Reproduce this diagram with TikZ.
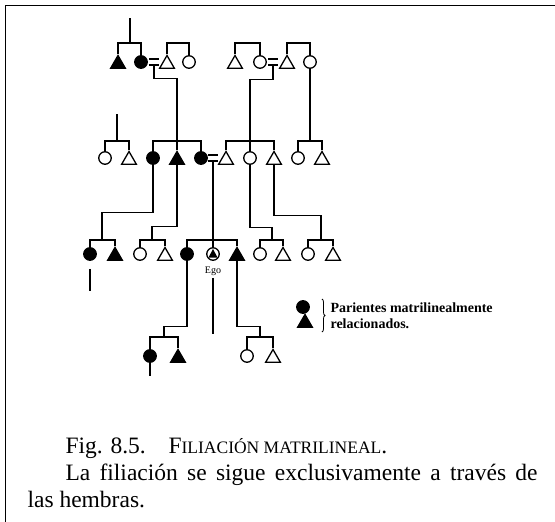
\documentclass[tikz,border=0pt]{standalone}
\usepackage{fontspec}
\setmainfont{Liberation Serif}
\usetikzlibrary{shapes.geometric,decorations.pathreplacing}

\newcommand{\smc}[1]{{\fontsize{17.5}{17.5}\selectfont #1}}

\begin{document}
\begin{tikzpicture}[x=1pt,y=-1pt,line width=1.1pt,
        fem/.style={circle,draw,line width=1.3pt,inner sep=0pt,minimum size=12.5pt},
        femr/.style={fem,fill},
        mal/.style={regular polygon,regular polygon sides=3,draw,line width=1.3pt,
                    inner sep=0pt,minimum size=17pt,yshift=-2pt},
        malr/.style={mal,fill},
        ego/.style={fem,path picture={\fill ([yshift=5pt]path picture bounding box.center)
                    -- ++(-4.5pt,-8.5pt) -- ++(9pt,0pt) -- cycle;}},
        eq/.style={inner sep=0pt,minimum width=8pt,minimum height=4.5pt},
        lbl/.style={inner sep=0pt,anchor=base west},
        captxt/.style={lbl,font=\fontsize{23.5}{23.5}\selectfont}]
        \useasboundingbox (0,0) rectangle (555,522);
        \draw[line width=1.8pt] (5.5,522) -- (5.5,5.5) -- (555,5.5);
        % generations
        \foreach \n/\s/\x in {a1/malr/118,a2/femr/141,a3/mal/167,a4/fem/189,
                              a5/mal/235,a6/fem/260,a7/mal/287,a8/fem/310}
          \node[\s] (\n) at (\x,62) {};
        \foreach \n/\s/\x in {b1/fem/105,b2/mal/129,b3/femr/153,b4/malr/177,b5/femr/201,
                              b6/mal/226,b7/fem/250,b8/mal/274,b9/fem/298,b10/mal/322}
          \node[\s] (\n) at (\x,158) {};
        \foreach \n/\s/\x in {c1/femr/90,c2/malr/115,c3/fem/140,c4/mal/165,c5/femr/187,
                              c6/ego/213,c7/malr/237,c8/fem/260,c9/mal/283,c10/fem/308,c11/mal/333}
          \node[\s] (\n) at (\x,254) {};
        \foreach \n/\s/\x in {d1/femr/150,d2/malr/178,d3/fem/247,d4/mal/273}
          \node[\s] (\n) at (\x,356) {};
        \node[eq] (e1) at (154,62) {};
        \node[eq] (e2) at (273,62) {};
        \node[eq] (e3) at (213,158) {};
        \foreach \e in {e1,e2,e3}
          \draw[line width=1.6pt] (\e.north west) -- (\e.north east)
                                  (\e.south west) -- (\e.south east);
        \node[inner sep=0pt,font=\fontsize{10}{10}\selectfont] (ego) at (213,271) {Ego};
        % sibling bars
        \foreach \c/\x/\y in {sA/130/43,sB/178/43,sC/247/43,sD/298/43,
                              sH/117/141,sE/177/141,sF/250/141,sG/310/141,
                              sI/102/240,sJ/152/240,sK/213/240,sL/272/240,sM/321/240,
                              sN/164/337,sO/260/337}
          \coordinate (\c) at (\x,\y);
        \foreach \p/\q/\s in {a1/a2/sA,a3/a4/sB,a5/a6/sC,a7/a8/sD,b1/b2/sH,b3/b5/sE,
                              b6/b8/sF,b9/b10/sG,c1/c2/sI,c3/c4/sJ,c5/c7/sK,c8/c9/sL,
                              c10/c11/sM,d1/d2/sN,d3/d4/sO}
          \draw (\p.north) |- (\s) -| (\q.north);
        \draw (b4.north) -- (sE);
        \draw (b7.north) -- (sF);
        \draw (c6.north) -- (sK);
        % descent
        \draw (e1.south) -- ++(0,14) -| (sE);
        \draw (e2.south) -- ++(0,15) -| (sF);
        \draw (a8.south) -- (sG);
        \draw (b3.south) -- ++(0,48) -| (sI);
        \draw (b4.south) -- ++(0,62) -| (sJ);
        \draw (e3.south) -- (sK);
        \draw (b7.south) -- ++(0,63) -| (sL);
        \draw (b8.south) -- ++(0,51) -| (sM);
        \draw (c5.south) -- ++(0,66) -| (sN);
        \draw (c7.south) -- ++(0,66) -| (sO);
        % free ends
        \coordinate (tA) at (130,18);
        \coordinate (tH) at (117,114);
        \coordinate (tC) at (90,291);
        \coordinate (tE) at (213,334);
        \coordinate (tD) at (150,376);
        \draw (sA) -- (tA);
        \draw (sH) -- (tH);
        \draw[shorten <=8pt] (c1.south) -- (tC);
        \draw[shorten <=2pt] (ego.south) -- (tE);
        \draw (d1.south) -- (tD);
        % key
        \node[femr] (k1) at (303,307) {};
        \node[malr] (k2) at (305,321) {};
        \draw[line width=0.8pt,decorate,decoration={brace,amplitude=3pt}] (322,299) -- (322,332);
        \node[lbl,font=\bfseries\fontsize{14}{14}\selectfont] (k3) at (330,312) {Parientes matrilinealmente};
        \node[lbl,font=\bfseries\fontsize{14}{14}\selectfont] (k4) at (330,328) {relacionados.};
        % caption
        \node[captxt] (f1) at (65,453) {Fig. 8.5.};
        \node[captxt] (f2) at (168,453) {F\smc{ILIACIÓN MATRILINEAL}.};
        \node[captxt] (f3) at (65,480)
          {\makebox[472pt][s]{La filiación se sigue exclusivamente a través de}};
        \node[captxt] (f4) at (27,507) {las hembras.};
\end{tikzpicture}
\end{document}
